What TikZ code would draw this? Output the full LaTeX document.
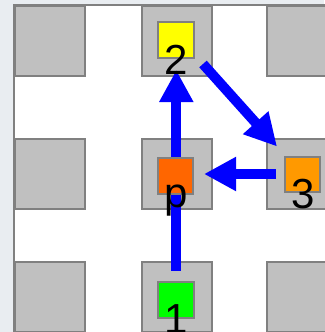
\documentclass[tikz,border=0pt]{standalone}
\usepackage{fontspec}
\setmainfont{Liberation Sans}
\usetikzlibrary{arrows.meta}
\definecolor{bgc}{HTML}{E9EDF1}
\definecolor{edgec}{HTML}{808080}
\definecolor{cellc}{HTML}{C0C0C0}
\definecolor{chipy}{HTML}{FFFF00}
\definecolor{chipp}{HTML}{FF6600}
\definecolor{chipt}{HTML}{FF9900}
\definecolor{chipg}{HTML}{00FF00}
\definecolor{flowc}{HTML}{0000FF}
\begin{document}
\begin{tikzpicture}[x=1pt,y=-1pt,
  cellbox/.style={draw=edgec, fill=cellc, line width=2pt, minimum size=70pt, inner sep=0pt, outer sep=0pt},
  chip/.style={draw=edgec, line width=2pt, minimum size=35.5pt, inner sep=0pt, outer sep=0pt},
  lbl/.style={font=\fontsize{42}{42}\selectfont, inner sep=0pt, anchor=base, text=black},
  flow/.style={draw=flowc, line width=10pt, line cap=butt, -{Triangle[length=32pt,width=32pt]}}]
\useasboundingbox (0,0) rectangle (324,332);
\fill[bgc] (0,0) rectangle (324,332);
\fill[white] (14,5) rectangle (330,340);
\draw[edgec, line width=2pt] (14,340) -- (14,5) -- (330,5);
% grid cells
\node[cellbox] (c11) at (50,41) {};
\node[cellbox] (c12) at (177,41) {};
\node[cellbox] (c13) at (302,41) {};
\node[cellbox] (c21) at (50,174) {};
\node[cellbox] (c22) at (177,174) {};
\node[cellbox] (c23) at (302,174) {};
\node[cellbox] (c31) at (50,297) {};
\node[cellbox] (c32) at (177,297) {};
\node[cellbox] (c33) at (302,297) {};
% arrow end points
\coordinate (a1s) at (176.3,270.7);
\coordinate (a1e) at (176.3,70);
\coordinate (a2s) at (203,64);
\coordinate (a2e) at (277,146.5);
\coordinate (a3s) at (276,174);
\coordinate (a3e) at (204,174);
\draw[flow] (a1s) -- (a1e);
\draw[flow] (a2s) -- (a2e);
\draw[flow] (a3s) -- (a3e);
% chips
\node[chip, fill=chipy] (n2) at (176,40) {};
\node[chip, fill=chipp] (np) at (175.7,175.8) {};
\node[chip, fill=chipt] (n3) at (302.5,174.7) {};
\node[chip, fill=chipg] (n1) at (176.2,300) {};
% labels
\node[lbl] (l2) at (176.5,74) {2};
\node[lbl] (lp) at (176,207) {p};
\node[lbl] (l3) at (303.5,208) {3};
\node[lbl] (l1) at (176.5,333) {1};
\end{tikzpicture}
\end{document}
